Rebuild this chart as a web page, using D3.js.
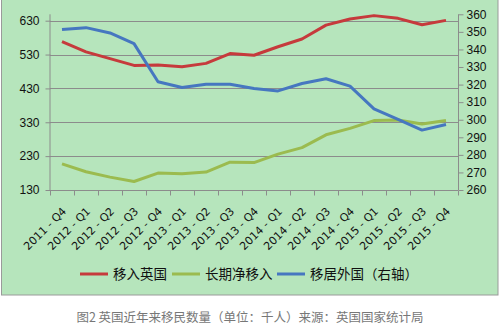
<!DOCTYPE html>
<html><head><meta charset="utf-8">
<script src="https://cdn.jsdelivr.net/npm/d3@7"></script>
<style>
html,body{margin:0;padding:0;background:#fff;}
svg{display:block;}
</style></head>
<body>
<svg id="c" width="500" height="329"></svg>
<script>
const categories = ["2011 - Q4","2012 - Q1","2012 - Q2","2012 - Q3","2012 - Q4","2013 - Q1","2013 - Q2","2013 - Q3","2013 - Q4","2014 - Q1","2014 - Q2","2014 - Q3","2014 - Q4","2015 - Q1","2015 - Q2","2015 - Q3","2015 - Q4"];
const immigration = [568,538,518,498,499,494,504,533,528,553,576,617,635,645,637,618,631];
const netLongTerm = [207,184,168,155,180,178,183,212,211,236,255,293,312,335,337,325,335];
const emigration = [351.3,352.4,349.4,343.3,321.6,318.3,320.2,320.2,317.8,316.4,320.6,323.3,319.1,306.2,300.2,294.1,297.3];
const leftTicks = [130,230,330,430,530,630];
const rightTicks = [260,270,280,290,300,310,320,330,340,350,360];
const seriesNames = ["移入英国","长期净移入","移居外国（右轴）"];
const caption = "图2 英国近年来移民数量（单位：千人）来源：英国国家统计局";

const svg = d3.select("#c");
const font = "'Noto Sans CJK SC', 'DejaVu Sans', sans-serif";
const textFont = "'Liberation Sans', 'DejaVu Sans', sans-serif";
const tickFont = "'DejaVu Sans', sans-serif";

svg.append("rect").attr("x",1.5).attr("y",-2).attr("width",496.5).attr("height",297)
  .attr("fill","#b6e5bc").attr("stroke","#9a9a9a").attr("stroke-width",1);

const L = 50, R = 458, T = 14.3, B = 190;
const x = d3.scaleBand().domain(categories).range([L, R]);
const yL = d3.scaleLinear().domain([130, 130 + (B - T) / (B - 20.7) * 500]).range([B, T]);
const yR = d3.scaleLinear().domain([260, 360]).range([B, T]);

// gridlines
svg.append("g").selectAll("line").data(leftTicks.slice(1)).join("line")
  .attr("x1", L).attr("x2", R).attr("y1", d => Math.round(yL(d))+0.5).attr("y2", d => Math.round(yL(d))+0.5)
  .attr("stroke","#8c8c8c").attr("stroke-width",1);

// left axis
const gl = svg.append("g").attr("transform",`translate(${L+0.5},0)`)
  .call(d3.axisLeft(yL).tickValues(leftTicks).tickSize(5).tickPadding(4));
gl.select(".domain").attr("stroke","#8c8c8c").attr("d",`M-0.5,${T}V${B}`);
gl.selectAll(".tick line").attr("stroke","#8c8c8c");
gl.selectAll("text").attr("font-family",textFont).attr("font-size",12).attr("fill","#111").attr("dx",-2);

// right axis
const gr = svg.append("g").attr("transform",`translate(${R+0.5},0)`)
  .call(d3.axisRight(yR).tickValues(rightTicks).tickSize(5).tickPadding(3));
gr.select(".domain").attr("stroke","#8c8c8c").attr("d",`M0,${T}V${B}`);
gr.selectAll(".tick line").attr("stroke","#8c8c8c");
gr.selectAll("text").attr("font-family",textFont).attr("font-size",12).attr("fill","#111");

// bottom axis
const gb = svg.append("g").attr("transform",`translate(0,${B+0.5})`);
gb.append("line").attr("x1",L).attr("x2",R).attr("stroke","#8c8c8c");
const edges = categories.map(c => x(c)).concat([R]);
gb.selectAll("line.t").data(edges).join("line").attr("class","t")
  .attr("x1", d => Math.round(d)+0.5).attr("x2", d => Math.round(d)+0.5).attr("y1",0).attr("y2",5)
  .attr("stroke","#8c8c8c");
gb.selectAll("text").data(categories).join("text")
  .attr("transform", d => `translate(${x(d)+x.bandwidth()/2+5},21.5) rotate(-45)`)
  .attr("text-anchor","end")
  .attr("font-family",tickFont).attr("font-size",11).attr("fill","#111").text(d => d);

// lines
const xc = (d,i) => x(categories[i]) + x.bandwidth()/2;
const series = [
  {data: immigration, scale: yL, color: "#c63a3c"},
  {data: netLongTerm, scale: yL, color: "#9bbb4f"},
  {data: emigration, scale: yR, color: "#4677c0"}
];
series.forEach(s => {
  svg.append("path").datum(s.data)
    .attr("d", d3.line().x(xc).y(d => s.scale(d)))
    .attr("fill","none").attr("stroke", s.color).attr("stroke-width",3).attr("stroke-linejoin","round");
});

// legend
const legendX = [80, 172, 277];
const lg = svg.append("g");
seriesNames.forEach((n,i) => {
  lg.append("line").attr("x1",legendX[i]).attr("x2",legendX[i]+28).attr("y1",274).attr("y2",274)
    .attr("stroke",series[i].color).attr("stroke-width",3);
  lg.append("text").attr("x",legendX[i]+33).attr("y",279).attr("font-family",font)
    .attr("font-size",13.5).attr("fill","#111").text(n);
});

// caption
svg.append("text").attr("x",250).attr("y",321.5).attr("text-anchor","middle")
  .attr("font-family",font).attr("font-size",12.5).attr("fill","#777").text(caption);
</script>
</body></html>
